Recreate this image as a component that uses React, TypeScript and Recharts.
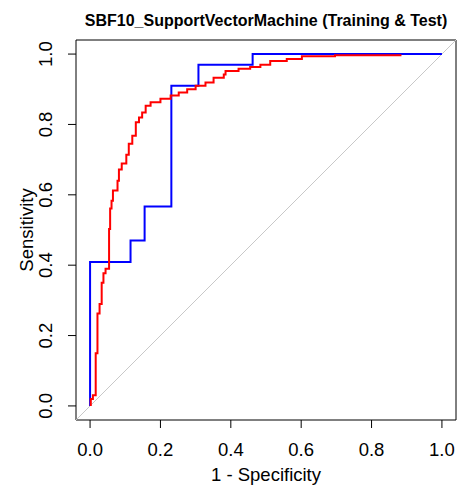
import React from 'react';
import { LineChart, Line, XAxis, YAxis, ReferenceLine, ReferenceArea } from 'recharts';

// training ROC (red), step corners
const trainFpr = [0.002, 0.002, 0.008, 0.016, 0.021, 0.027, 0.033, 0.038, 0.044, 0.054, 0.057, 0.061, 0.065, 0.078, 0.082, 0.09, 0.103, 0.11, 0.12, 0.13, 0.139, 0.148, 0.158, 0.172, 0.2, 0.229, 0.252, 0.276, 0.3, 0.328, 0.351, 0.38, 0.385, 0.422, 0.455, 0.484, 0.512, 0.559, 0.602, 0.696, 0.885];
const trainTpr = [0, 0.02, 0.03, 0.15, 0.263, 0.29, 0.35, 0.377, 0.39, 0.503, 0.561, 0.583, 0.612, 0.64, 0.672, 0.689, 0.714, 0.745, 0.768, 0.806, 0.82, 0.834, 0.853, 0.863, 0.873, 0.882, 0.891, 0.9, 0.91, 0.919, 0.933, 0.942, 0.952, 0.958, 0.963, 0.97, 0.98, 0.986, 0.994, 0.997, 0.997];

// test ROC (blue)
const testFpr = [0, 0, 0.115, 0.155, 0.231, 0.308, 0.462, 1];
const testTpr = [0, 0.409, 0.47, 0.567, 0.91, 0.97, 1, 1];

const axisTicks = [0, 0.2, 0.4, 0.6, 0.8, 1];
const axisRange = [-0.04, 1.04];

const trainData = trainFpr.map((x, i) => ({ x, y: trainTpr[i] }));
const testData = testFpr.map((x, i) => ({ x, y: testTpr[i] }));

const font = '"Liberation Sans", Arial, sans-serif';
const fs = 18.5;

function YTick(props: any) {
  const { x, y, payload } = props;
  return (
    <text x={x} y={y} transform={`rotate(-90, ${x}, ${y})`} textAnchor="middle"
      fontSize={fs} fontFamily={font} fill="#000">
      {Number(payload.value).toFixed(1)}
    </text>
  );
}

function YLabel(props: any) {
  const vb = props.viewBox || { x: 20, y: 40, width: 56, height: 380 };
  const cx = vb.x + 13;
  const cy = vb.y + vb.height / 2;
  return (
    <text x={cx} y={cy} transform={`rotate(-90, ${cx}, ${cy})`} textAnchor="middle"
      fontSize={fs} fontFamily={font} fill="#000">
      Sensitivity
    </text>
  );
}

export default function App() {
  return (
    <div style={{ position: 'absolute', left: 0, top: 0, width: 457, height: 489, background: '#fff' }}>
      <LineChart width={457} height={489} margin={{ top: 40, right: 1, bottom: 0, left: 20 }}>
        <XAxis
          dataKey="x"
          type="number"
          domain={axisRange}
          ticks={axisTicks}
          allowDataOverflow
          height={69}
          axisLine={false}
          tickSize={8}
          tickMargin={15}
          tickLine={{ stroke: '#000' }}
          tickFormatter={(v: number) => v.toFixed(1)}
          tick={{ fontSize: fs, fontFamily: font, fill: '#000' }}
          label={{ value: '1 - Specificity', position: 'insideBottom', offset: 8, fontSize: fs, fontFamily: font, fill: '#000' }}
        />
        <YAxis
          dataKey="y"
          type="number"
          domain={axisRange}
          ticks={axisTicks}
          allowDataOverflow
          width={56}
          axisLine={false}
          tickSize={8}
          tickMargin={16}
          tickLine={{ stroke: '#000' }}
          tick={<YTick />}
          label={<YLabel />}
        />
        <ReferenceLine
          segment={[{ x: axisRange[0], y: axisRange[0] }, { x: axisRange[1], y: axisRange[1] }]}
          stroke="#c8c8c8"
          strokeWidth={1}
        />
        <Line data={testData} dataKey="y" type="stepAfter" stroke="#0000ff" strokeWidth={2}
          dot={false} isAnimationActive={false} />
        <Line data={trainData} dataKey="y" type="stepAfter" stroke="#ff0000" strokeWidth={2}
          dot={false} isAnimationActive={false} />
        <ReferenceArea x1={axisRange[0]} x2={axisRange[1]} y1={axisRange[0]} y2={axisRange[1]}
          fill="none" fillOpacity={0} stroke="#000" strokeWidth={1} />
      </LineChart>
      <svg width={457} height={40} style={{ position: 'absolute', left: 0, top: 0 }}>
        <text x={266} y={26} textAnchor="middle" fontSize={16} fontWeight="bold" fontFamily={font} fill="#000">
          SBF10_SupportVectorMachine (Training &amp; Test)
        </text>
      </svg>
    </div>
  );
}
